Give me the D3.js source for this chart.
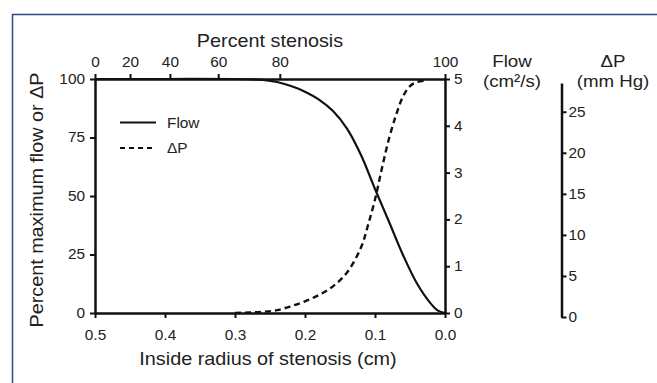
<!DOCTYPE html>
<html>
<head>
<meta charset="utf-8">
<script src="https://cdn.jsdelivr.net/npm/d3@7"></script>
<style>
  html, body { margin: 0; padding: 0; background: #fff; }
  svg text { font-family: "Liberation Sans", Arial, Helvetica, sans-serif; fill: #222; }
</style>
</head>
<body>
<div id="chart"></div>
<script>
// Flow curve (percent of maximum) against inside radius (cm)
const flowRadius = [0.5, 0.4, 0.3, 0.28, 0.26, 0.24, 0.22, 0.2, 0.18, 0.16, 0.14, 0.12, 0.1, 0.08, 0.06, 0.04, 0.02, 0.01, 0];
const flowPct = [100, 100, 100, 99.9, 99.6, 98.7, 97.0, 94.6, 91.2, 86.3, 78.8, 67.5, 53, 39, 24.8, 12.6, 3.9, 1.0, 0];

// Pressure drop curve (percent) against inside radius (cm)
const dpRadius = [0.3, 0.28, 0.26, 0.24, 0.22, 0.2, 0.18, 0.16, 0.14, 0.12, 0.11, 0.1, 0.09, 0.08, 0.07, 0.06, 0.05, 0.04, 0.03];
const dpPct = [0, 0.2, 0.5, 1.2, 2.9, 5.0, 7.7, 11.4, 17.3, 28, 37.5, 48.5, 62, 74.5, 84.5, 92.5, 97, 98.7, 99.3];

// Axis ticks
const radiusTicks = [0.5, 0.4, 0.3, 0.2, 0.1, 0.0];
const pctTicks = [0, 25, 50, 75, 100];
const stenosisTicks = [0, 20, 40, 60, 80, 100];
const stenosisAtRadius = [0.5, 0.45, 0.393, 0.324, 0.236, 0]; // where each stenosis tick sits on the radius axis
const flowTicks = [0, 1, 2, 3, 4, 5];
const mmHgTicks = [0, 5, 10, 15, 20, 25];
const mmHgMax = 28.5;

const width = 657, height = 383;
const plotLeft = 95, plotRight = 445, plotTop = 79, plotBottom = 313;
const sx = 1.1; // glyphs in the source are a little wide

const svg = d3.select("#chart").append("svg")
    .attr("width", width)
    .attr("height", height);

// frame
svg.append("rect")
    .attr("x", 12.5).attr("y", 14.5)
    .attr("width", 700).attr("height", 450)
    .attr("fill", "none")
    .attr("stroke", "#2d4b82")
    .attr("stroke-width", 1.5);

// scales
const x = d3.scaleLinear().domain([0.5, 0]).range([plotLeft, plotRight]);
const y = d3.scaleLinear().domain([0, 100]).range([plotBottom, plotTop]);
const yFlow = d3.scaleLinear().domain([0, 5]).range([plotBottom, plotTop]);
const yMmHg = d3.scaleLinear().domain([0, mmHgMax]).range([317, 83]);

function label(px, py, txt, size, anchor, rot) {
    return svg.append("text")
        .attr("transform", `translate(${px},${py})` + (rot ? ` rotate(${rot})` : "") + ` scale(${sx},1)`)
        .attr("text-anchor", anchor || "middle")
        .style("font-size", size + "px")
        .text(txt);
}

function styleAxis(g) {
    g.select(".domain").attr("stroke", "#111").attr("stroke-width", 2.5);
    g.selectAll(".tick line").attr("stroke", "#111").attr("stroke-width", 2);
    g.selectAll(".tick text")
        .style("font-size", "14px")
        .attr("fill", "#222")
        .each(function() {
            const t = d3.select(this);
            const tx = +t.attr("x") || 0;
            t.attr("x", tx / sx).attr("transform", `scale(${sx},1)`);
        });
}

// axes
svg.append("g")
    .attr("transform", `translate(0,${plotBottom})`)
    .call(d3.axisBottom(x).tickValues(radiusTicks).tickFormat(d3.format(".1f"))
        .tickSize(5).tickSizeOuter(0).tickPadding(12))
    .call(styleAxis);

svg.append("g")
    .attr("transform", `translate(0,${plotTop})`)
    .call(d3.axisTop(x).tickValues(stenosisAtRadius).tickFormat((d, i) => stenosisTicks[i])
        .tickSize(5).tickSizeOuter(0).tickPadding(7))
    .call(styleAxis);

svg.append("g")
    .attr("transform", `translate(${plotLeft},0)`)
    .call(d3.axisLeft(y).tickValues(pctTicks).tickSize(5).tickSizeOuter(0).tickPadding(5))
    .call(styleAxis);

svg.append("g")
    .attr("transform", `translate(${plotRight},0)`)
    .call(d3.axisRight(yFlow).tickValues(flowTicks).tickFormat(d3.format("d"))
        .tickSize(5).tickSizeOuter(0).tickPadding(4))
    .call(styleAxis);

svg.append("g")
    .attr("transform", "translate(561.5,0)")
    .call(d3.axisRight(yMmHg).tickValues(mmHgTicks).tickFormat(d3.format("d"))
        .tickSize(5).tickSizeOuter(0).tickPadding(2))
    .call(styleAxis);

// curves
const line = d3.line()
    .x(d => x(d[0]))
    .y(d => y(d[1]))
    .curve(d3.curveCatmullRom);

svg.append("path")
    .datum(flowRadius.map((r, i) => [r, flowPct[i]]))
    .attr("d", line)
    .attr("fill", "none")
    .attr("stroke", "#111")
    .attr("stroke-width", 2.2);

svg.append("path")
    .datum(dpRadius.map((r, i) => [r, dpPct[i]]))
    .attr("d", line)
    .attr("fill", "none")
    .attr("stroke", "#111")
    .attr("stroke-width", 2.4)
    .attr("stroke-dasharray", "6,4");

// legend
svg.append("line")
    .attr("x1", 120).attr("x2", 156).attr("y1", 122.5).attr("y2", 122.5)
    .attr("stroke", "#111").attr("stroke-width", 2.2);
svg.append("line")
    .attr("x1", 120).attr("x2", 156).attr("y1", 148).attr("y2", 148)
    .attr("stroke", "#111").attr("stroke-width", 2.2)
    .attr("stroke-dasharray", "5,4");
label(167, 128, "Flow", 14, "start");
label(167, 153, "ΔP", 14, "start");

// titles
label(270, 47, "Percent stenosis", 18);
label(268, 365, "Inside radius of stenosis (cm)", 18);
label(43, 200, "Percent maximum flow or ΔP", 18, "middle", -90);
label(512, 67, "Flow", 17);
label(512, 86.5, "(cm²/s)", 17);
label(613, 67, "ΔP", 17);
label(613, 86.5, "(mm Hg)", 17);
</script>
</body>
</html>
